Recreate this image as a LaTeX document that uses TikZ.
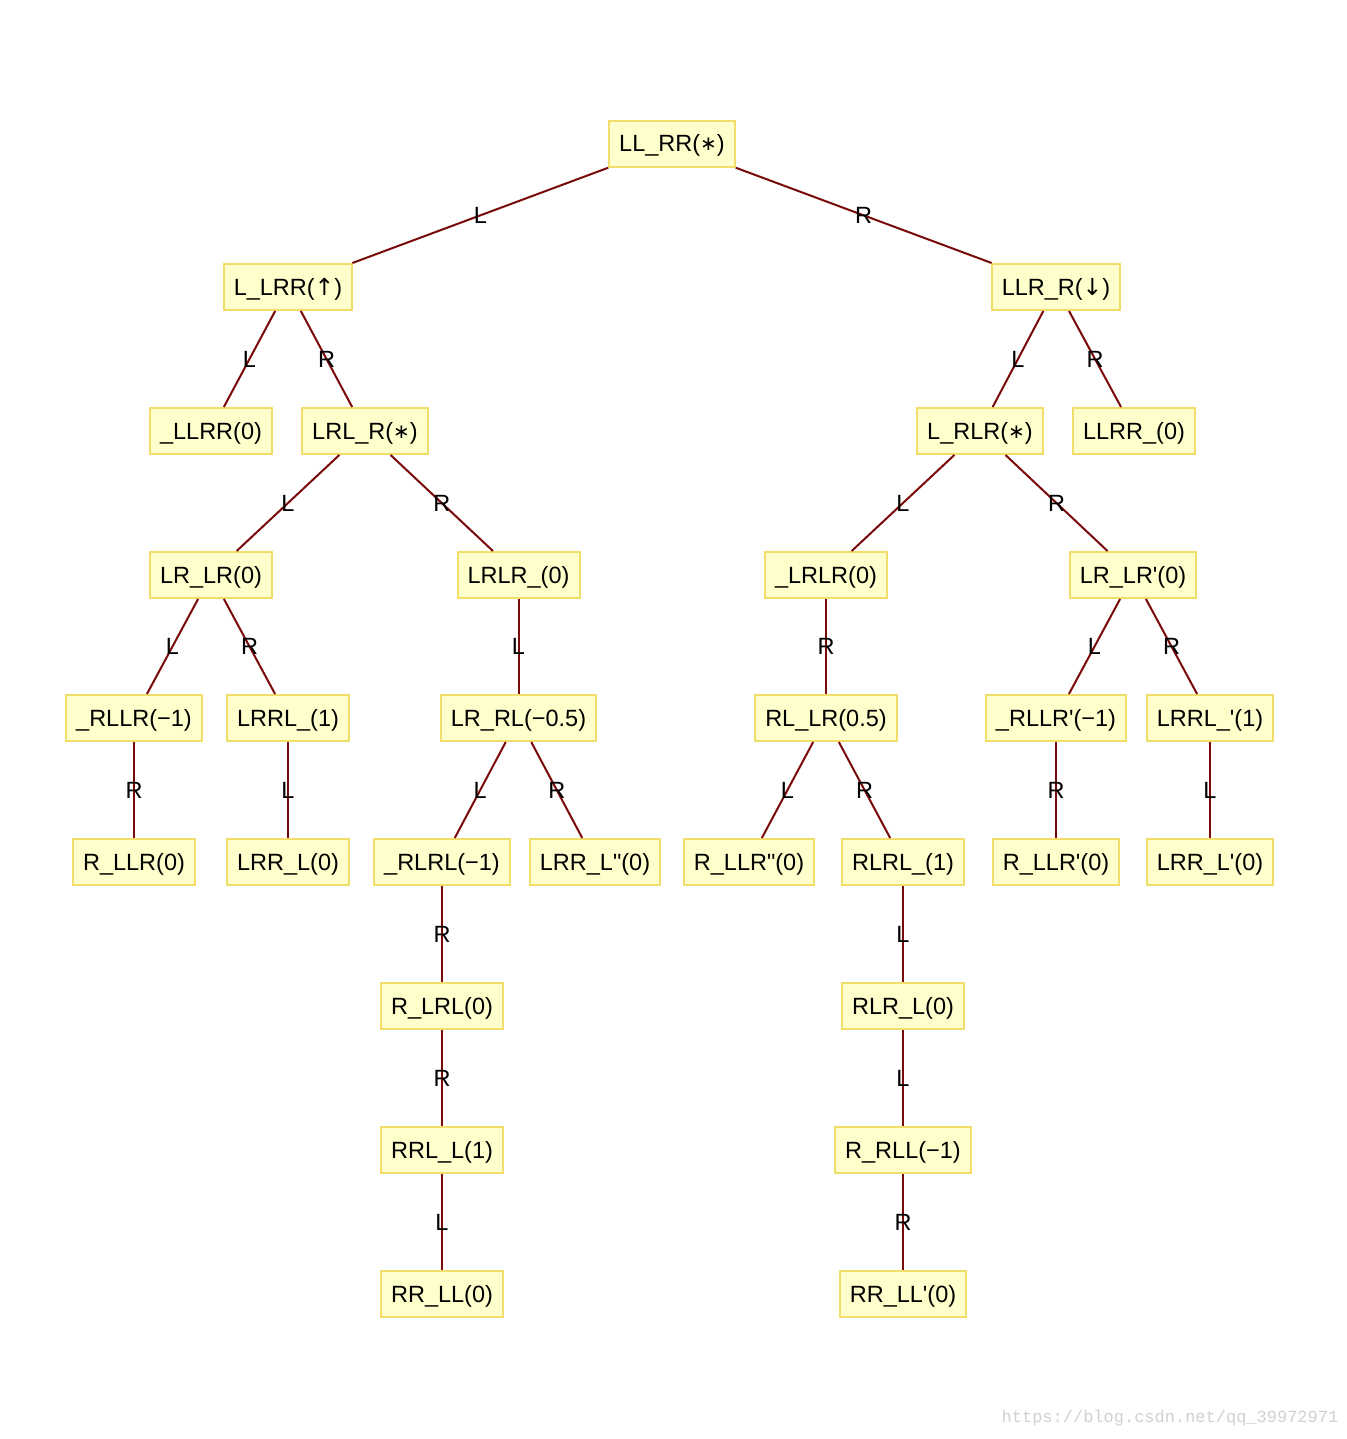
\documentclass[tikz,border=0pt]{standalone}
\usepackage{fontspec}
\setmainfont{Liberation Sans}
\newfontfamily\djv{DejaVu Sans}
\newfontfamily\wmfont{Liberation Mono}
\definecolor{boxline}{HTML}{F2DC6A}
\definecolor{boxfill}{HTML}{FFFFCC}
\definecolor{edgecol}{HTML}{7A0A0A}
\newcommand\tedge[3]{\draw[edgeline] (#1) -- node[lab]{#3} (#2);}
\newcommand\sq{\textquotesingle}
\newcommand\dq{\textquotedbl}
\newcommand\mystar{\raisebox{1pt}{\scalebox{0.85}{\djv ∗}}}
\newcommand\upar{{\djv ↑}}
\newcommand\dnar{{\djv ↓}}
\begin{document}
\begin{tikzpicture}[x=1pt,y=-1pt,
  box/.style={draw=boxline, fill=boxfill, line width=2pt, minimum width=122pt,
    minimum height=46pt, inner xsep=10pt, inner ysep=0pt,
    text height=17pt, text depth=1pt,
    font=\fontsize{23.5}{28}\selectfont},
  edgeline/.style={draw=edgecol, line width=2pt},
  lab/.style={font=\fontsize{23.5}{28}\selectfont, inner sep=0pt, text=black}]
\useasboundingbox[fill=white] (0,0) rectangle (1346,1439);

\node[box] (root) at (672,144) {LL\_RR(\mystar)};
\node[box] (a) at (288,287) {L\_LRR(\upar)};
\node[box] (b) at (1056,287) {LLR\_R(\dnar)};
\node[box] (c) at (211,431) {\_LLRR(0)};
\node[box] (d) at (365,431) {LRL\_R(\mystar)};
\node[box] (e) at (980,431) {L\_RLR(\mystar)};
\node[box] (f) at (1134,431) {LLRR\_(0)};
\node[box] (g) at (211,575) {LR\_LR(0)};
\node[box] (h) at (518.5,575) {LRLR\_(0)};
\node[box] (i) at (826,575) {\_LRLR(0)};
\node[box] (j) at (1133,575) {LR\_LR\sq(0)};
\node[box] (k) at (134,718) {\_RLLR(−1)};
\node[box] (l) at (288,718) {LRRL\_(1)};
\node[box] (m) at (518.5,718) {LR\_RL(−0.5)};
\node[box] (n) at (826,718) {RL\_LR(0.5)};
\node[box] (o) at (1056,718) {\_RLLR\sq(−1)};
\node[box] (p) at (1210,718) {LRRL\_\sq(1)};
\node[box] (q) at (134,862) {R\_LLR(0)};
\node[box] (r) at (288,862) {LRR\_L(0)};
\node[box] (s) at (442,862) {\_RLRL(−1)};
\node[box] (t) at (595,862) {LRR\_L\dq(0)};
\node[box] (u) at (749,862) {R\_LLR\dq(0)};
\node[box] (v) at (903,862) {RLRL\_(1)};
\node[box] (w) at (1056,862) {R\_LLR\sq(0)};
\node[box] (x) at (1210,862) {LRR\_L\sq(0)};
\node[box] (y) at (442,1006) {R\_LRL(0)};
\node[box] (z) at (903,1006) {RLR\_L(0)};
\node[box] (yy) at (442,1150) {RRL\_L(1)};
\node[box] (zz) at (903,1150) {R\_RLL(−1)};
\node[box] (yyy) at (442,1294) {RR\_LL(0)};
\node[box] (zzz) at (903,1294) {RR\_LL\sq(0)};

\tedge{root}{a}{L}
\tedge{root}{b}{R}
\tedge{a}{c}{L}
\tedge{a}{d}{R}
\tedge{b}{e}{L}
\tedge{b}{f}{R}
\tedge{d}{g}{L}
\tedge{d}{h}{R}
\tedge{e}{i}{L}
\tedge{e}{j}{R}
\tedge{g}{k}{L}
\tedge{g}{l}{R}
\tedge{h}{m}{L}
\tedge{i}{n}{R}
\tedge{j}{o}{L}
\tedge{j}{p}{R}
\tedge{k}{q}{R}
\tedge{l}{r}{L}
\tedge{m}{s}{L}
\tedge{m}{t}{R}
\tedge{n}{u}{L}
\tedge{n}{v}{R}
\tedge{o}{w}{R}
\tedge{p}{x}{L}
\tedge{s}{y}{R}
\tedge{v}{z}{L}
\tedge{y}{yy}{R}
\tedge{z}{zz}{L}
\tedge{yy}{yyy}{L}
\tedge{zz}{zzz}{R}

\node[text=black!18, font=\wmfont\fontsize{17}{20}\selectfont, inner sep=0pt] (wm) at (1170,1418) {https://blog.csdn.net/qq\_39972971};
\end{tikzpicture}
\end{document}
